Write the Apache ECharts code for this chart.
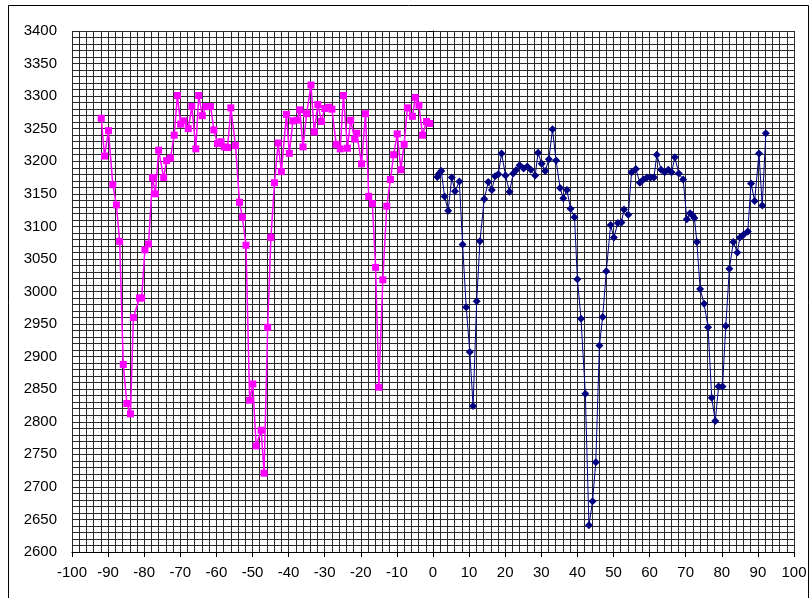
<!DOCTYPE html>
<html>
<head>
<meta charset="utf-8">
<script src="https://cdn.jsdelivr.net/npm/echarts@6/dist/echarts.min.js"></script>
<style>
    html, body { margin: 0; padding: 0; background: #fff; }
    #chartDiv { width: 810px; height: 598px; }
</style>
</head>
<body>
<div id="chartDiv"></div>
<script>
// 左侧（负x）数据
var leftX = [-91.9, -91.0, -89.9, -88.7, -87.7, -86.8, -85.8, -84.8, -83.8, -83.0,
    -81.3, -80.7, -79.8, -78.8, -77.7, -76.9, -76.0, -74.6, -73.8, -72.7,
    -71.7, -70.8, -69.9, -69.0, -67.8, -66.8, -65.7, -64.9, -63.9, -62.9,
    -61.6, -60.7, -59.7, -58.7, -57.8, -56.9, -56.0, -54.7, -53.6, -52.8,
    -51.8, -50.8, -49.9, -49.0, -47.6, -46.8, -45.8, -44.9, -43.9, -42.9,
    -42.0, -40.6, -39.8, -38.8, -37.7, -36.9, -36.0, -35.0, -33.8, -32.9,
    -31.9, -30.9, -30.0, -28.9, -28.0, -26.8, -25.7, -24.8, -23.7, -22.8,
    -21.7, -21.1, -19.8, -18.7, -17.8, -16.8, -15.9, -15.0, -13.9, -12.8,
    -11.8, -10.9, -9.9, -8.9, -8.0, -7.1, -5.7, -4.9, -3.9, -2.9,
    -1.8, -0.9];
var leftY = [3266, 3208, 3247, 3164, 3133, 3077, 2888, 2828, 2812, 2960,
    2990, 2990, 3064, 3073, 3175, 3150, 3217, 3175, 3201, 3205,
    3240, 3301, 3257, 3262, 3250, 3284, 3219, 3301, 3270, 3284,
    3284, 3248, 3227, 3230, 3222, 3221, 3282, 3224, 3137, 3114,
    3071, 2833, 2858, 2763, 2787, 2721, 2945, 3083, 3167, 3228,
    3184, 3272, 3212, 3262, 3263, 3279, 3222, 3273, 3317, 3245,
    3287, 3261, 3281, 3283, 3280, 3226, 3219, 3301, 3220, 3263,
    3234, 3243, 3196, 3273, 3146, 3135, 3037, 2853, 3018, 3131,
    3172, 3210, 3242, 3187, 3226, 3282, 3269, 3298, 3286, 3240,
    3261, 3258];

// 右侧（正x）数据
var rightX = [1.2, 1.7, 2.3, 3.2, 4.2, 5.2, 6.1, 7.3, 8.2, 9.2,
    10.2, 11.1, 12.1, 13.0, 14.2, 15.3, 16.3, 17.2, 18.1, 19.0,
    20.1, 21.2, 22.2, 23.0, 24.0, 25.1, 26.1, 27.1, 28.3, 29.1,
    30.1, 31.1, 32.1, 33.1, 34.1, 35.2, 36.1, 37.1, 38.1, 39.2,
    40.0, 41.0, 42.2, 43.2, 44.2, 45.1, 46.1, 47.0, 48.0, 49.2,
    50.1, 51.2, 52.2, 52.9, 54.1, 55.0, 56.2, 57.3, 58.3, 59.3,
    60.3, 61.2, 62.0, 63.2, 64.2, 65.2, 66.1, 67.0, 68.1, 69.3,
    70.3, 71.2, 71.9, 72.4, 73.1, 74.0, 75.1, 76.2, 77.2, 78.2,
    79.1, 80.2, 81.1, 82.1, 83.2, 84.3, 85.0, 86.0, 87.2, 88.1,
    89.1, 90.3, 91.2, 92.2];
var rightY = [3176, 3181, 3185, 3146, 3124, 3175, 3154, 3169, 3072, 2976,
    2907, 2824, 2985, 3077, 3142, 3168, 3156, 3177, 3180, 3212,
    3178, 3153, 3181, 3186, 3194, 3189, 3192, 3187, 3178, 3213,
    3196, 3185, 3203, 3249, 3201, 3159, 3143, 3156, 3127, 3114,
    3019, 2958, 2843, 2641, 2678, 2738, 2917, 2961, 3031, 3102,
    3083, 3105, 3106, 3126, 3118, 3183, 3188, 3167, 3172, 3175,
    3175, 3175, 3210, 3187, 3183, 3187, 3183, 3206, 3181, 3172,
    3111, 3120, 3117, 3113, 3076, 3004, 2981, 2945, 2837, 2801,
    2854, 2854, 2947, 3035, 3076, 3060, 3083, 3087, 3092, 3166,
    3139, 3212, 3132, 3243];

var GRID_COLOR = '#2a2a2a';
var FONT = 'Liberation Sans, Arial, sans-serif';

var chartDiv = echarts.init(document.getElementById("chartDiv"));
chartDiv.setOption(getChartOption());

function toPairs(xs, ys) {
    var list = new Array();
    for (var i = 0; i < xs.length; i++) {
        list.push([xs[i], ys[i]]);
    }
    return list;
}

function getChartOption() {
    return {
        animation: false,
        backgroundColor: '#fff',
        grid: { left: 72, top: 31, width: 722, height: 521 },
        graphic: [{
            type: 'rect',
            shape: { x: 8.5, y: 5.5, width: 800, height: 620 },
            style: { fill: 'none', stroke: '#000', lineWidth: 1 },
            silent: true
        }],
        xAxis: {
            type: 'value',
            min: -100, max: 100, interval: 10,
            axisLine: { show: true, onZero: false, lineStyle: { color: '#000', width: 1 } },
            axisTick: { show: true, length: 5, lineStyle: { color: '#000' } },
            axisLabel: {
                color: '#000', fontSize: 15, fontFamily: FONT, margin: 13,
                formatter: function (v) { return String(v); }
            },
            splitLine: { show: true, lineStyle: { color: GRID_COLOR, width: 1 } },
            minorTick: { show: false, splitNumber: 5 },
            minorSplitLine: { show: true, lineStyle: { color: GRID_COLOR, width: 1 } }
        },
        yAxis: {
            type: 'value',
            min: 2600, max: 3400, interval: 50,
            axisLine: { show: true, lineStyle: { color: '#000', width: 1 } },
            axisTick: { show: true, length: 5, lineStyle: { color: '#000' } },
            axisLabel: {
                color: '#000', fontSize: 15, fontFamily: FONT, margin: 15,
                formatter: function (v) { return String(v); }
            },
            splitLine: { show: true, lineStyle: { color: GRID_COLOR, width: 1 } },
            minorTick: { show: false, splitNumber: 5 },
            minorSplitLine: { show: true, lineStyle: { color: GRID_COLOR, width: 1 } }
        },
        series: [{
            type: 'line',
            data: toPairs(leftX, leftY),
            symbol: 'rect',
            symbolSize: 7,
            itemStyle: { color: '#FF00FF' },
            lineStyle: { color: '#FF00FF', width: 1.5 }
        }, {
            type: 'line',
            data: toPairs(rightX, rightY),
            symbol: 'diamond',
            symbolSize: 8,
            itemStyle: { color: '#000080' },
            lineStyle: { color: '#000080', width: 1 }
        }]
    };
}
</script>
</body>
</html>
